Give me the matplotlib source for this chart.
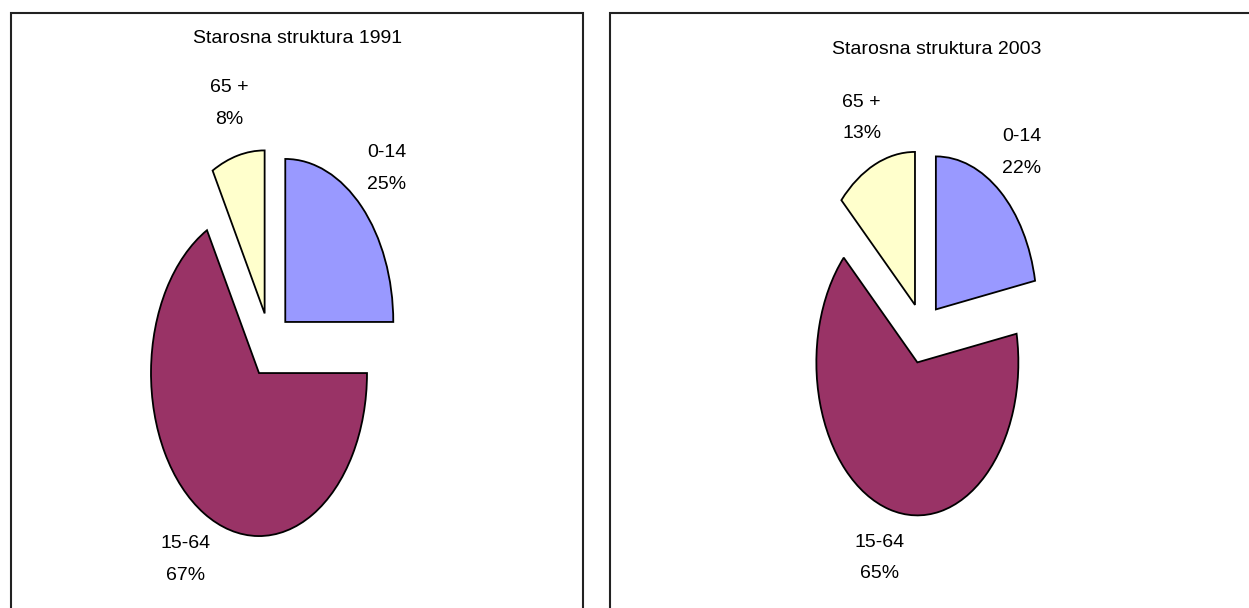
import matplotlib.pyplot as plt
from matplotlib.patches import Rectangle

# data
groups = ['0-14', '15-64', '65 +']
share_1991 = [25, 67, 8]
share_2003 = [22, 65, 13]
years = ['1991', '2003']
colors = ['#9999FF', '#993366', '#FFFFCC']

W, H = 1249, 608
font = ['Liberation Sans', 'DejaVu Sans']
fsize = 14

fig = plt.figure(figsize=(W / 100, H / 100), dpi=100)


def px_axes(cx, cy, rx, ry, lim=1.8):
    # axes placed so that radius 1 is rx by ry pixels around (cx, cy), y from the top
    w = 2 * lim * rx
    h = 2 * lim * ry
    ax = fig.add_axes([(cx - w / 2) / W, (H - cy - h / 2) / H, w / W, h / H])
    ax.axis('off')
    return ax


def panel(ax, values, year, title_xy):
    labels = [f'{g}\n{v}%' for g, v in zip(groups, values)]
    wedges, texts = ax.pie(values, labels=labels, colors=colors, startangle=90,
                           counterclock=False, explode=[0.2] * len(values),
                           labeldistance=1.33,
                           wedgeprops={'edgecolor': 'black', 'linewidth': 1.3})
    for t in texts:
        t.set_ha('center')
        t.set_va('center')
        t.set_family(font)
        t.set_fontsize(fsize)
        t.set_linespacing(2.12)
    ax.set_aspect('auto')
    ax.set_xlim(-1.8, 1.8)
    ax.set_ylim(-1.8, 1.8)
    fig.text(title_xy[0] / W, 1 - title_xy[1] / H, f'Starosna struktura {year}',
             ha='center', va='baseline', family=font, fontsize=fsize)


ax1 = px_axes(270, 345, 108, 163)
panel(ax1, share_1991, years[0], (298, 43))
ax2 = px_axes(923, 333, 101, 153)
panel(ax2, share_2003, years[1], (937, 54))

# panel frames
for x0, x1 in [(10.7, 583), (610.3, 1270)]:
    fig.add_artist(Rectangle((x0 / W, -20 / H), (x1 - x0) / W, (H - 12.7 + 20) / H,
                             fill=False, edgecolor='#222222', linewidth=1.5,
                             transform=fig.transFigure))

plt.savefig('out.png', dpi=100)
